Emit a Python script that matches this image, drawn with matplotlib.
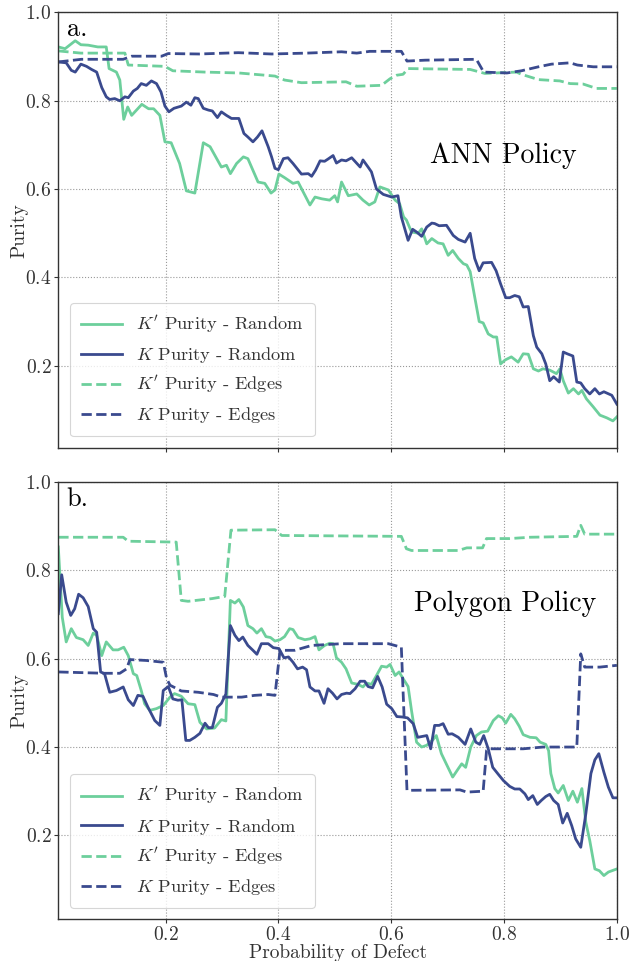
import matplotlib
matplotlib.use("Agg")
import matplotlib.pyplot as plt

# ---- data ----
ann_kp_random = [
    (0.01, 0.922), (0.022, 0.918), (0.04, 0.936), (0.05, 0.927), (0.063, 0.926), (0.08, 0.922),
    (0.095, 0.922), (0.10, 0.873), (0.113, 0.865), (0.119, 0.847), (0.126, 0.758), (0.133, 0.786),
    (0.14, 0.767), (0.158, 0.792), (0.17, 0.782), (0.179, 0.782), (0.19, 0.767), (0.199, 0.707),
    (0.21, 0.705), (0.225, 0.658), (0.237, 0.596), (0.252, 0.591), (0.267, 0.705), (0.279, 0.696),
    (0.299, 0.65), (0.308, 0.654), (0.315, 0.635), (0.326, 0.658), (0.338, 0.673), (0.346, 0.669),
    (0.364, 0.616), (0.376, 0.613), (0.387, 0.591), (0.394, 0.598), (0.401, 0.634), (0.411, 0.626),
    (0.426, 0.613), (0.435, 0.616), (0.456, 0.564), (0.465, 0.582), (0.477, 0.578), (0.491, 0.575),
    (0.50, 0.585), (0.505, 0.571), (0.512, 0.616), (0.524, 0.585), (0.539, 0.589), (0.55, 0.575),
    (0.561, 0.564), (0.571, 0.571), (0.58, 0.605), (0.595, 0.598), (0.607, 0.575), (0.615, 0.567),
    (0.622, 0.537), (0.627, 0.53), (0.636, 0.503), (0.648, 0.50), (0.654, 0.51), (0.663, 0.476),
    (0.672, 0.488), (0.683, 0.478), (0.692, 0.476), (0.701, 0.45), (0.709, 0.461), (0.719, 0.443),
    (0.728, 0.431), (0.734, 0.428), (0.74, 0.413), (0.748, 0.356), (0.756, 0.30), (0.763, 0.297),
    (0.772, 0.272), (0.781, 0.265), (0.787, 0.265), (0.794, 0.204), (0.802, 0.213), (0.813, 0.22),
    (0.825, 0.208), (0.834, 0.227), (0.843, 0.226), (0.852, 0.193), (0.861, 0.188), (0.869, 0.193),
    (0.881, 0.19), (0.893, 0.182), (0.899, 0.193), (0.905, 0.166), (0.914, 0.138), (0.923, 0.148),
    (0.932, 0.136), (0.938, 0.144), (0.946, 0.125), (0.958, 0.107), (0.97, 0.088), (0.982, 0.082),
    (0.993, 0.075), (1.0, 0.084),
]
ann_k_random = [
    (0.01, 0.888), (0.024, 0.886), (0.033, 0.869), (0.04, 0.865), (0.05, 0.883), (0.06, 0.878),
    (0.069, 0.871), (0.078, 0.865), (0.087, 0.83), (0.095, 0.809), (0.101, 0.803), (0.11, 0.805),
    (0.119, 0.80), (0.128, 0.809), (0.134, 0.807), (0.143, 0.822), (0.15, 0.828), (0.157, 0.839),
    (0.166, 0.835), (0.175, 0.845), (0.184, 0.839), (0.192, 0.82), (0.199, 0.788), (0.206, 0.775),
    (0.215, 0.783), (0.228, 0.788), (0.237, 0.797), (0.245, 0.79), (0.252, 0.807), (0.258, 0.805),
    (0.267, 0.783), (0.276, 0.779), (0.283, 0.777), (0.292, 0.762), (0.299, 0.775), (0.308, 0.767),
    (0.317, 0.76), (0.33, 0.76), (0.339, 0.726), (0.346, 0.718), (0.355, 0.707), (0.363, 0.718),
    (0.371, 0.732), (0.382, 0.696), (0.388, 0.673), (0.394, 0.647), (0.40, 0.644), (0.409, 0.669),
    (0.417, 0.671), (0.426, 0.658), (0.441, 0.634), (0.453, 0.635), (0.459, 0.629), (0.466, 0.643),
    (0.474, 0.664), (0.482, 0.663), (0.488, 0.668), (0.497, 0.676), (0.503, 0.659), (0.512, 0.666),
    (0.52, 0.664), (0.53, 0.671), (0.545, 0.65), (0.55, 0.666), (0.559, 0.65), (0.565, 0.639),
    (0.574, 0.60), (0.586, 0.588), (0.601, 0.582), (0.612, 0.585), (0.618, 0.537), (0.63, 0.484),
    (0.638, 0.509), (0.646, 0.502), (0.654, 0.493), (0.663, 0.514), (0.672, 0.523), (0.677, 0.522),
    (0.685, 0.517), (0.698, 0.518), (0.71, 0.495), (0.719, 0.486), (0.731, 0.48), (0.74, 0.50),
    (0.748, 0.443), (0.756, 0.415), (0.763, 0.433), (0.778, 0.434), (0.786, 0.415), (0.794, 0.385),
    (0.803, 0.354), (0.81, 0.354), (0.819, 0.359), (0.827, 0.356), (0.834, 0.333), (0.843, 0.334),
    (0.852, 0.268), (0.858, 0.242), (0.867, 0.227), (0.874, 0.204), (0.881, 0.166), (0.888, 0.175),
    (0.898, 0.163), (0.905, 0.231), (0.912, 0.227), (0.922, 0.222), (0.929, 0.163), (0.936, 0.161),
    (0.943, 0.148), (0.952, 0.136), (0.961, 0.148), (0.969, 0.136), (0.977, 0.141), (0.991, 0.133),
    (1.0, 0.113),
]
ann_kp_edges = [
    (0.01, 0.913), (0.05, 0.908), (0.128, 0.908), (0.134, 0.881), (0.199, 0.878), (0.213, 0.868),
    (0.27, 0.865), (0.33, 0.863), (0.394, 0.856), (0.411, 0.847), (0.441, 0.841), (0.52, 0.843),
    (0.539, 0.833), (0.583, 0.835), (0.598, 0.85), (0.61, 0.858), (0.621, 0.86), (0.63, 0.873),
    (0.74, 0.871), (0.766, 0.862), (0.822, 0.865), (0.831, 0.86), (0.861, 0.848), (0.899, 0.845),
    (0.917, 0.839), (0.94, 0.838), (0.964, 0.828), (1.0, 0.828),
]
ann_k_edges = [
    (0.01, 0.888), (0.051, 0.894), (0.125, 0.894), (0.14, 0.901), (0.193, 0.901), (0.205, 0.907),
    (0.26, 0.906), (0.329, 0.909), (0.388, 0.906), (0.45, 0.908), (0.512, 0.911), (0.539, 0.908),
    (0.562, 0.912), (0.618, 0.912), (0.628, 0.89), (0.66, 0.892), (0.751, 0.894), (0.764, 0.865),
    (0.805, 0.863), (0.831, 0.868), (0.861, 0.877), (0.884, 0.883), (0.917, 0.886), (0.93, 0.881),
    (0.958, 0.877), (1.0, 0.877),
]

poly_kp_random = [
    (0.01, 0.853), (0.017, 0.694), (0.024, 0.638), (0.033, 0.668), (0.042, 0.648), (0.054, 0.643),
    (0.063, 0.63), (0.072, 0.658), (0.078, 0.653), (0.087, 0.607), (0.095, 0.638), (0.107, 0.62),
    (0.116, 0.62), (0.126, 0.626), (0.134, 0.607), (0.143, 0.566), (0.149, 0.562), (0.157, 0.528),
    (0.163, 0.498), (0.172, 0.483), (0.184, 0.487), (0.196, 0.494), (0.208, 0.513), (0.216, 0.521),
    (0.228, 0.515), (0.24, 0.498), (0.252, 0.496), (0.261, 0.456), (0.273, 0.441), (0.287, 0.443),
    (0.299, 0.462), (0.307, 0.459), (0.315, 0.732), (0.323, 0.726), (0.33, 0.734), (0.338, 0.717),
    (0.346, 0.675), (0.355, 0.668), (0.362, 0.658), (0.37, 0.668), (0.378, 0.65), (0.386, 0.648),
    (0.394, 0.64), (0.403, 0.643), (0.411, 0.65), (0.42, 0.668), (0.426, 0.666), (0.435, 0.648),
    (0.447, 0.643), (0.456, 0.645), (0.465, 0.65), (0.472, 0.62), (0.482, 0.63), (0.491, 0.635),
    (0.497, 0.634), (0.503, 0.602), (0.512, 0.592), (0.52, 0.577), (0.53, 0.545), (0.541, 0.542),
    (0.55, 0.536), (0.556, 0.545), (0.565, 0.542), (0.574, 0.562), (0.583, 0.583), (0.592, 0.581),
    (0.598, 0.587), (0.607, 0.562), (0.614, 0.57), (0.623, 0.551), (0.63, 0.537), (0.636, 0.483),
    (0.645, 0.411), (0.654, 0.40), (0.663, 0.404), (0.673, 0.415), (0.68, 0.426), (0.689, 0.385),
    (0.698, 0.361), (0.709, 0.332), (0.719, 0.351), (0.725, 0.362), (0.732, 0.354), (0.741, 0.40),
    (0.751, 0.426), (0.76, 0.434), (0.771, 0.436), (0.781, 0.46), (0.79, 0.471), (0.797, 0.466),
    (0.803, 0.454), (0.812, 0.474), (0.819, 0.464), (0.827, 0.447), (0.834, 0.428), (0.846, 0.422),
    (0.857, 0.421), (0.864, 0.411), (0.874, 0.406), (0.879, 0.392), (0.883, 0.34), (0.89, 0.306),
    (0.896, 0.296), (0.905, 0.313), (0.914, 0.279), (0.922, 0.30), (0.93, 0.275), (0.938, 0.306),
    (0.945, 0.23), (0.952, 0.188), (0.961, 0.124), (0.969, 0.12), (0.977, 0.109), (0.985, 0.117),
    (1.0, 0.124),
]
poly_k_random = [
    (0.01, 0.702), (0.016, 0.79), (0.024, 0.728), (0.032, 0.698), (0.039, 0.713), (0.046, 0.746),
    (0.054, 0.738), (0.063, 0.718), (0.072, 0.668), (0.078, 0.66), (0.085, 0.57), (0.092, 0.566),
    (0.101, 0.524), (0.113, 0.528), (0.125, 0.536), (0.134, 0.507), (0.143, 0.494), (0.151, 0.517),
    (0.16, 0.515), (0.169, 0.49), (0.181, 0.46), (0.19, 0.449), (0.196, 0.528), (0.205, 0.537),
    (0.213, 0.509), (0.222, 0.506), (0.229, 0.507), (0.236, 0.415), (0.243, 0.415), (0.252, 0.422),
    (0.261, 0.431), (0.27, 0.454), (0.276, 0.444), (0.283, 0.444), (0.292, 0.49), (0.299, 0.499),
    (0.307, 0.52), (0.315, 0.675), (0.323, 0.653), (0.33, 0.641), (0.337, 0.649), (0.346, 0.63),
    (0.355, 0.619), (0.362, 0.61), (0.37, 0.634), (0.382, 0.634), (0.391, 0.625), (0.401, 0.623),
    (0.41, 0.602), (0.418, 0.604), (0.426, 0.592), (0.434, 0.577), (0.443, 0.581), (0.45, 0.575),
    (0.456, 0.536), (0.465, 0.527), (0.472, 0.527), (0.481, 0.499), (0.488, 0.532), (0.496, 0.522),
    (0.504, 0.509), (0.512, 0.519), (0.521, 0.522), (0.527, 0.521), (0.536, 0.532), (0.545, 0.549),
    (0.553, 0.549), (0.559, 0.537), (0.567, 0.534), (0.576, 0.56), (0.584, 0.536), (0.592, 0.497),
    (0.601, 0.487), (0.61, 0.469), (0.62, 0.468), (0.629, 0.466), (0.639, 0.453), (0.647, 0.422),
    (0.655, 0.424), (0.663, 0.426), (0.67, 0.396), (0.677, 0.449), (0.685, 0.449), (0.692, 0.453),
    (0.701, 0.429), (0.708, 0.43), (0.719, 0.422), (0.731, 0.406), (0.741, 0.441), (0.75, 0.411),
    (0.757, 0.406), (0.764, 0.426), (0.772, 0.396), (0.78, 0.354), (0.79, 0.338), (0.799, 0.324),
    (0.81, 0.311), (0.819, 0.305), (0.828, 0.305), (0.837, 0.294), (0.843, 0.281), (0.851, 0.29),
    (0.859, 0.27), (0.866, 0.279), (0.874, 0.288), (0.881, 0.293), (0.888, 0.279), (0.896, 0.27),
    (0.904, 0.228), (0.912, 0.25), (0.92, 0.222), (0.927, 0.192), (0.936, 0.173), (0.945, 0.249),
    (0.954, 0.34), (0.961, 0.371), (0.968, 0.385), (0.977, 0.343), (0.985, 0.309), (0.993, 0.285),
    (1.0, 0.285),
]
poly_kp_edges = [
    (0.01, 0.875), (0.125, 0.875), (0.134, 0.866), (0.219, 0.864), (0.228, 0.732), (0.24, 0.73),
    (0.282, 0.736), (0.305, 0.741), (0.316, 0.891), (0.394, 0.892), (0.406, 0.879), (0.618, 0.877),
    (0.627, 0.849), (0.636, 0.845), (0.719, 0.845), (0.734, 0.851), (0.762, 0.851), (0.769, 0.872),
    (0.81, 0.872), (0.846, 0.875), (0.929, 0.877), (0.936, 0.902), (0.943, 0.882), (1.0, 0.882),
]
poly_k_edges = [
    (0.01, 0.57), (0.092, 0.567), (0.119, 0.567), (0.131, 0.577), (0.137, 0.598), (0.166, 0.596),
    (0.196, 0.592), (0.202, 0.555), (0.208, 0.54), (0.228, 0.527), (0.258, 0.524), (0.285, 0.519),
    (0.299, 0.513), (0.335, 0.513), (0.358, 0.517), (0.382, 0.519), (0.394, 0.517), (0.403, 0.619),
    (0.429, 0.619), (0.459, 0.63), (0.512, 0.634), (0.595, 0.634), (0.618, 0.626), (0.628, 0.302),
    (0.722, 0.303), (0.734, 0.298), (0.763, 0.30), (0.769, 0.392), (0.774, 0.396), (0.834, 0.396),
    (0.869, 0.40), (0.929, 0.40), (0.936, 0.611), (0.943, 0.581), (0.97, 0.581), (1.0, 0.585),
]

panels = [
    ("a.", "ANN Policy", ann_kp_random, ann_k_random, ann_kp_edges, ann_k_edges, (0.014, 1.0), (0.796, 0.672)),
    ("b.", "Polygon Policy", poly_kp_random, poly_k_random, poly_kp_edges, poly_k_edges, (0.01, 1.0), (0.80, 0.721)),
]

green = "#6dcf9c"
blue = "#3a4a8e"

plt.rcParams["font.family"] = "serif"
plt.rcParams["font.serif"] = ["cmr10", "DejaVu Serif"]
plt.rcParams["mathtext.fontset"] = "cm"
plt.rcParams["axes.formatter.use_mathtext"] = True
plt.rcParams["axes.unicode_minus"] = False


def plot_series(ax, pts, color, ls, label):
    xs = [p[0] for p in pts]
    ys = [p[1] for p in pts]
    ax.plot(xs, ys, color=color, linestyle=ls, linewidth=2.0, label=label)


fig = plt.figure(figsize=(6.29, 9.61), dpi=100)
ax_top = fig.add_axes([0.0927, 0.534, 0.888, 0.453])
ax_bot = fig.add_axes([0.0927, 0.0434, 0.888, 0.455])

for ax, (tag, title, kp_r, k_r, kp_e, k_e, ylim, tpos) in zip([ax_top, ax_bot], panels):
    plot_series(ax, kp_r, green, "-", r"$K'$ Purity - Random")
    plot_series(ax, k_r, blue, "-", r"$K$ Purity - Random")
    plot_series(ax, kp_e, green, "--", r"$K'$ Purity - Edges")
    plot_series(ax, k_e, blue, "--", r"$K$ Purity - Edges")

    ax.set_xlim(0.01, 1.0)
    ax.set_ylim(*ylim)
    ax.set_xticks([0.2, 0.4, 0.6, 0.8, 1.0])
    ax.set_yticks([0.2, 0.4, 0.6, 0.8, 1.0])
    ax.grid(True, color="#999999", linestyle=":", linewidth=0.8)
    ax.set_axisbelow(True)
    for s in ax.spines.values():
        s.set_color("#333333")
        s.set_linewidth(1.0)
    ax.tick_params(labelsize=14, length=3, pad=2, color="#333333", labelcolor="#333333")
    ax.set_ylabel("Purity", fontsize=14, color="#333333")
    ax.yaxis.set_label_coords(-0.054, 0.5)

    ax.text(0.015, 0.988, tag, transform=ax.transAxes, fontsize=19, ha="left", va="top")
    ax.text(tpos[0], tpos[1], title, transform=ax.transAxes, fontsize=20, ha="center", va="center")

    leg = ax.legend(loc="lower left", fontsize=13.2, frameon=True, fancybox=True,
                    borderpad=0.6, labelspacing=0.5, handlelength=2.2,
                    bbox_to_anchor=(0.005, 0.005))
    leg.get_frame().set_edgecolor("#cccccc")
    leg.get_frame().set_linewidth(0.8)
    for t in leg.get_texts():
        t.set_color("#333333")

ax_top.tick_params(labelbottom=False)
ax_bot.set_xlabel("Probability of Defect", fontsize=14, color="#333333", labelpad=0)

fig.savefig("out.png", dpi=100)
